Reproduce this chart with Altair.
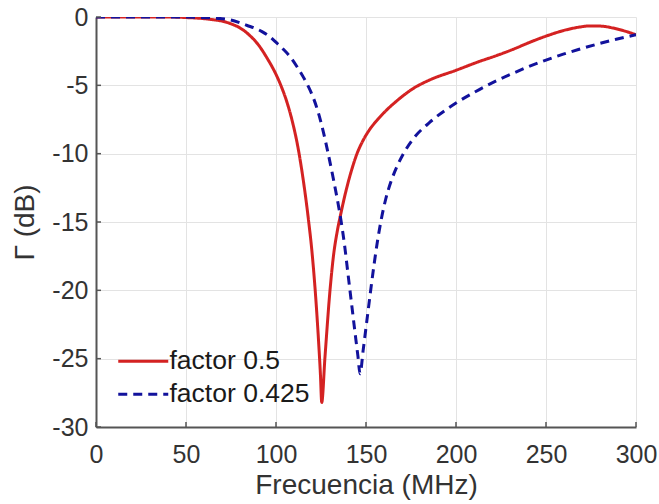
import altair as alt
import pandas as pd

series_names = ["factor 0.5", "factor 0.425"]

red_freq = [0, 20, 40, 50, 60, 65, 70, 75, 80, 85, 90, 95, 100, 103, 106, 109, 112, 115, 118, 120,
            122, 123.5, 124.7, 125.4, 127.2, 130, 132, 134, 136, 139.3, 142, 145, 148.5, 152.2,
            156.5, 161.5, 167, 176, 185.5, 200, 212, 223, 232, 241, 250, 260, 268, 275, 281, 287,
            293, 300]
red_gamma = [0, 0, 0, -0.04, -0.12, -0.2, -0.3, -0.5, -0.8, -1.3, -2.0, -3.0, -4.2, -5.1, -6.2,
             -7.6, -9.4, -11.8, -14.8, -17.2, -20.4, -23.4, -26.2, -28.2, -24.9, -20.0, -17.4,
             -15.7, -14.4, -12.5, -11.2, -10.0, -9.0, -8.2, -7.5, -6.8, -6.15, -5.25, -4.6, -3.9,
             -3.3, -2.8, -2.35, -1.85, -1.4, -0.98, -0.75, -0.65, -0.67, -0.8, -1.0, -1.3]

blue_freq = [0, 20, 40, 55, 65, 70, 74.4, 80, 84, 88, 92, 96, 100.4, 104, 107.8, 111.5, 115.2, 118,
             120.7, 123.5, 126.3, 129, 131.8, 134, 136, 138, 140, 142, 144, 145.5, 146.7, 148.5,
             150.5, 152.5, 154.5, 156.5, 158.5, 161, 164, 167, 171, 176, 185.5, 200, 211, 222.8,
             232, 241, 250, 259.6, 268, 278, 289, 300]
blue_gamma = [0, 0, 0, -0.02, -0.07, -0.12, -0.2, -0.42, -0.62, -0.8, -1.05, -1.38, -1.9, -2.35,
              -2.9, -3.6, -4.4, -5.1, -5.9, -7.0, -8.4, -10.0, -11.8, -13.3, -14.8, -16.6, -18.8,
              -21.0, -23.2, -24.8, -26.1, -24.3, -22.2, -20.1, -18.1, -16.3, -14.8, -13.3, -12.0,
              -11.0, -9.95, -8.95, -7.7, -6.3, -5.45, -4.65, -4.1, -3.6, -3.15, -2.72, -2.38, -2.0,
              -1.63, -1.3]

x_ticks = [0, 50, 100, 150, 200, 250, 300]
y_ticks = [0, -5, -10, -15, -20, -25, -30]

line_colors = ["#d42222", "#12129c"]

df = pd.concat([
    pd.DataFrame({"freq": red_freq, "gamma": red_gamma, "series": series_names[0]}),
    pd.DataFrame({"freq": blue_freq, "gamma": blue_gamma, "series": series_names[1]}),
])

FONT = "Liberation Sans"

legend = alt.Legend(
    title=None,
    orient="none",
    legendX=34,
    legendY=331,
    symbolType="M-2.5,0H2.5",
    symbolSize=400,
    symbolStrokeWidth=3,
    labelFont=FONT,
    labelFontSize=26.5,
    labelColor="#1a1a1a",
    labelOffset=13,
    rowPadding=6,
    padding=0,
)

x_enc = alt.X(
    "freq:Q",
    scale=alt.Scale(domain=[0, 300], nice=False, zero=False),
    axis=alt.Axis(
        values=x_ticks, title="Frecuencia (MHz)", ticks=False, tickSize=0, labelPadding=15,
        labelExpr="'' + datum.value",
        labelFont=FONT, labelFontSize=25, labelColor="#333333", labelFlush=False,
        titleFont=FONT, titleFontSize=28, titleFontWeight="normal", titleColor="#333333",
        titlePadding=4, domainColor="#555555", domainWidth=2,
        gridColor="#e3e3e3", gridWidth=1,
    ),
)
y_enc = alt.Y(
    "gamma:Q",
    scale=alt.Scale(domain=[-30, 0], nice=False, zero=False),
    axis=alt.Axis(
        values=y_ticks, title="Γ (dB)", ticks=False, tickSize=0, labelPadding=8,
        labelExpr="'' + datum.value",
        labelFont=FONT, labelFontSize=25, labelColor="#333333", labelFlush=False,
        titleFont=FONT, titleFontSize=28, titleFontWeight="normal", titleColor="#333333",
        titlePadding=12, domainColor="#555555", domainWidth=2,
        gridColor="#e3e3e3", gridWidth=1,
    ),
)

lines = alt.Chart(df).mark_line(strokeWidth=3, interpolate="monotone", clip=True).encode(
    x=x_enc,
    y=y_enc,
    color=alt.Color("series:N", scale=alt.Scale(domain=series_names, range=line_colors), legend=legend),
    strokeDash=alt.StrokeDash("series:N", scale=alt.Scale(domain=series_names, range=[[1, 0], [9, 6]]),
                              legend=legend),
    detail="series:N",
)

xt = alt.Chart(pd.DataFrame({"t": x_ticks})).mark_rule(color="#555555", strokeWidth=1.5).encode(
    x=alt.X("t:Q", scale=alt.Scale(domain=[0, 300], nice=False)),
    y=alt.value(410), y2=alt.value(405),
)
yt = alt.Chart(pd.DataFrame({"t": y_ticks})).mark_rule(color="#555555", strokeWidth=1.5).encode(
    y=alt.Y("t:Q", scale=alt.Scale(domain=[-30, 0], nice=False)),
    x=alt.value(0), x2=alt.value(5),
)

chart = alt.layer(lines, xt, yt).properties(
    width=540, height=410,
    autosize=alt.AutoSizeParams(type="none"),
    padding={"left": 96, "top": 17, "right": 23, "bottom": 77},
    background="white",
).configure_view(stroke=None)

chart.save("out.html", embed_options={"renderer": "svg", "actions": False})
